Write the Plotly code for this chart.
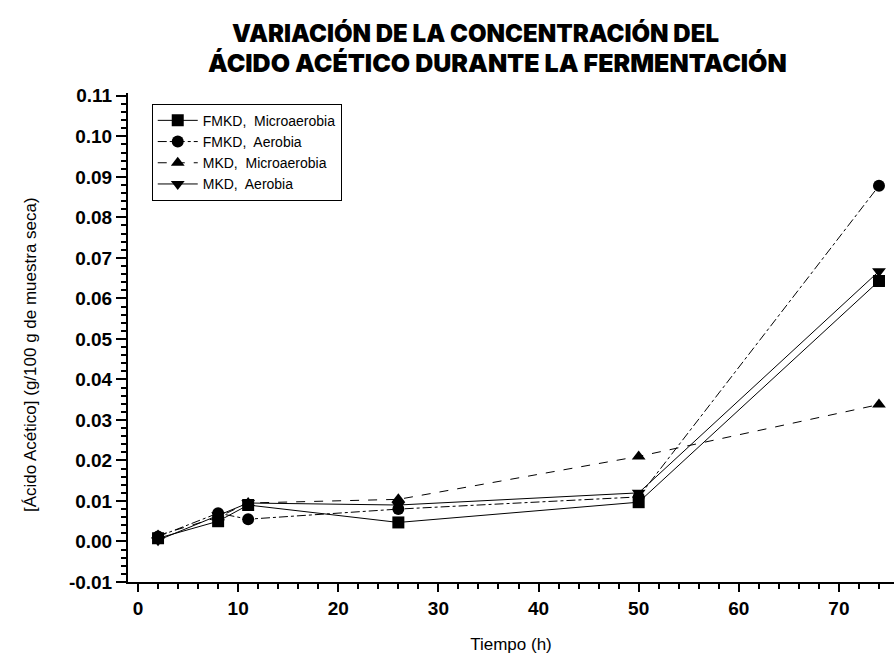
import plotly.graph_objects as go

# Sampling times (h)
tiempo = [2, 8, 11, 26, 50, 74]

# Acetic acid concentration, g/100 g dry sample
fmkd_micro = [0.0008, 0.0050, 0.0090, 0.0047, 0.0097, 0.0643]
fmkd_aer = [0.0012, 0.0070, 0.0055, 0.0080, 0.0110, 0.0878]
mkd_micro = [0.0015, 0.0060, 0.0095, 0.0104, 0.0210, 0.0338]
mkd_aer = [0.0003, 0.0065, 0.0095, 0.0090, 0.0120, 0.0667]

series_names = ["FMKD,  Microaerobia", "FMKD,  Aerobia", "MKD,  Microaerobia", "MKD,  Aerobia"]
series_values = [fmkd_micro, fmkd_aer, mkd_micro, mkd_aer]
symbols = ["square", "circle", "triangle-up", "triangle-down"]
dashes = ["solid", "dashdot", "dash", "solid"]

y_ticks = [round(-0.01 + 0.01 * i, 2) for i in range(13)]
x_ticks = [0, 10, 20, 30, 40, 50, 60, 70]

fig = go.Figure()
for name, vals, sym, dash in zip(series_names, series_values, symbols, dashes):
    fig.add_trace(go.Scatter(
        x=tiempo, y=vals, name=name, mode="lines+markers",
        line=dict(color="black", width=1, dash=dash),
        marker=dict(symbol=sym, size=12, color="black"),
    ))

axis_font = dict(family="Arial", size=19, color="black", weight="bold")
title_font = dict(family="Inter", size=24, color="black", weight=900)
fig.update_layout(
    width=894, height=660,
    margin=dict(l=128, r=0, t=93, b=78),
    paper_bgcolor="white", plot_bgcolor="white",
    font=dict(family="Arial", color="black"),
    showlegend=True,
    legend=dict(
        x=0.031, y=0.978, xanchor="left", yanchor="top",
        bordercolor="black", borderwidth=1, bgcolor="white",
        font=dict(family="Arial", size=14, color="black"),
        tracegroupgap=0, itemwidth=40,
    ),
    annotations=[
        dict(text="VARIACIÓN DE LA CONCENTRACIÓN DEL", x=475, y=33, xref="paper", yref="paper",
             showarrow=False, font=title_font),
        dict(text="ÁCIDO ACÉTICO DURANTE LA FERMENTACIÓN", x=497, y=63, xref="paper", yref="paper",
             showarrow=False, font=dict(family="Inter", size=25, color="black", weight=900)),
        dict(text="[Ácido Acético] (g/100 g de muestra seca)", x=30, y=355, xref="paper", yref="paper",
             showarrow=False, textangle=-90, font=dict(family="Arial", size=17, color="black")),
    ],
)

# annotation positions above are given in pixels; convert them to paper fractions
plot_w = 894 - 128
plot_h = 660 - 93 - 78
for ann in fig.layout.annotations:
    ann.x = (ann.x - 128) / plot_w
    ann.y = 1 + (93 - ann.y) / plot_h
    ann.xanchor = "center"
    ann.yanchor = "middle"

fig.update_xaxes(
    range=[-1.0, 75.5], tickvals=x_ticks, ticktext=[str(v) for v in x_ticks],
    showline=True, linecolor="black", linewidth=2, showgrid=False, zeroline=False,
    ticks="outside", ticklen=8, tickwidth=2, tickcolor="black",
    minor=dict(dtick=2, ticks="outside", ticklen=5, tickcolor="black", tickwidth=1.5),
    tickfont=axis_font,
    title=dict(text="Tiempo (h)", font=dict(family="Arial", size=17, color="black"), standoff=20),
)
fig.update_yaxes(
    range=[-0.01, 0.1107], tickvals=y_ticks, ticktext=[f"{v:.2f}" for v in y_ticks],
    showline=True, linecolor="black", linewidth=2, showgrid=False, zeroline=False,
    ticks="outside", ticklen=10, tickwidth=2, tickcolor="black",
    minor=dict(dtick=0.002, ticks="outside", ticklen=5, tickcolor="black", tickwidth=1.5),
    tickfont=axis_font,
)

fig.write_html("out.html")
